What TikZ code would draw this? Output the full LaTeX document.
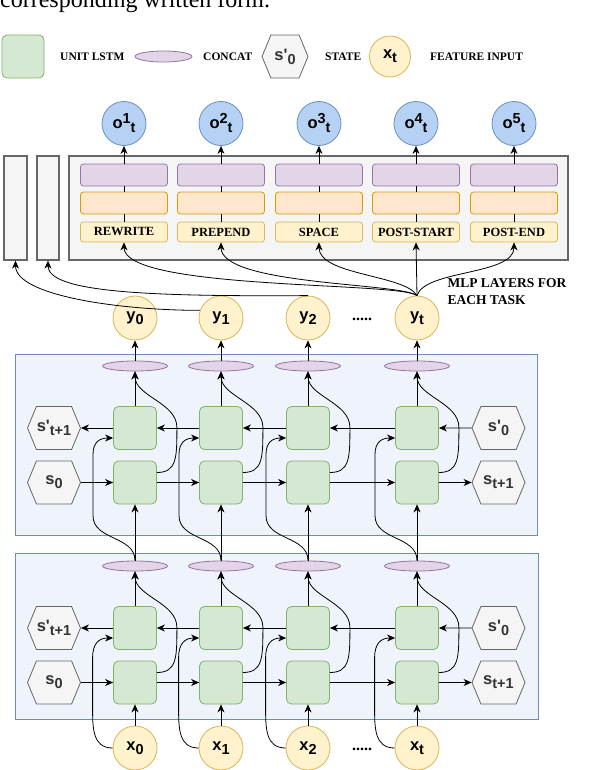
\documentclass[tikz,border=0pt]{standalone}
\usepackage{fontspec}
\setmainfont{Liberation Serif}
\newfontfamily\nodefont{Liberation Sans}
\usetikzlibrary{arrows.meta,shapes.symbols,shapes.geometric}

\definecolor{lstmfill}{HTML}{D5E8D4}
\definecolor{lstmline}{HTML}{82B366}
\definecolor{catfill}{HTML}{E1D5E7}
\definecolor{catline}{HTML}{9673A6}
\definecolor{statefill}{HTML}{F5F5F5}
\definecolor{stateline}{HTML}{666666}
\definecolor{featfill}{HTML}{FFF2CC}
\definecolor{featline}{HTML}{D6B656}
\definecolor{outfill}{HTML}{B5D2F5}
\definecolor{outline}{HTML}{6C8EBF}
\definecolor{mlpfill}{HTML}{FFE6CC}
\definecolor{mlpline}{HTML}{D79B00}
\definecolor{panelfill}{HTML}{EEF3FC}
\definecolor{panelline}{HTML}{6C8EBF}

\newcommand{\lsub}[1]{\raisebox{-4pt}{\fontsize{14.5}{14.5}\selectfont #1}}
\newcommand{\lsup}[1]{\raisebox{5pt}{\fontsize{14.5}{14.5}\selectfont #1}}

\tikzset{
  arr/.style={-{Stealth[length=8pt,width=7pt,inset=2.5pt]}, line width=0.8pt},
  lbl/.style={font=\nodefont\bfseries\fontsize{16.5}{16.5}\selectfont},
  lstm/.style={draw=lstmline, fill=lstmfill, line width=0.8pt, rounded corners=5pt,
    minimum width=43pt, minimum height=43pt},
  concat/.style={ellipse, draw=catline, fill=catfill, line width=0.8pt, inner sep=0pt,
    minimum width=65pt, minimum height=10pt},
  state/.style={signal, signal to=west and east, signal pointer angle=135, lbl,
    draw=stateline, fill=statefill, text=black!80, line width=0.8pt, inner sep=0pt,
    minimum width=53pt, minimum height=43pt},
  feat/.style={circle, lbl, draw=featline, fill=featfill, line width=0.8pt, inner sep=0pt,
    minimum size=44pt},
  outc/.style={circle, lbl, draw=outline, fill=outfill, line width=0.8pt, inner sep=0pt,
    minimum size=44pt},
  hidbox/.style={rounded corners=3pt, line width=0.8pt, minimum width=87pt, minimum height=22pt},
  taskbox/.style={draw=featline, fill=featfill, rounded corners=3pt, line width=0.8pt,
    minimum width=87pt, minimum height=20pt, inner sep=0pt,
    font=\bfseries\fontsize{12.5}{12.5}\selectfont},
  mlpbox/.style={draw=stateline, fill=statefill, line width=1.3pt},
  panel/.style={draw=panelline, fill=panelfill, line width=0.8pt},
  keytext/.style={anchor=west, inner sep=0pt, font=\bfseries\fontsize{11.5}{11.5}\selectfont},
}

\begin{document}
\begin{tikzpicture}[x=1pt,y=-1pt]
\useasboundingbox (0,0) rectangle (594,770);

% last line of the caption above
\node[anchor=base west, inner sep=0pt, font=\fontsize{24}{24}\selectfont] (caption) at (0,8) {corresponding written form.};

% legend
\node[lstm, minimum width=42pt] (keylstm) at (23,56.5) {};
\node[keytext] (keylstmtext) at (60,57) {UNIT LSTM};
\node[concat, minimum width=57pt, minimum height=11pt] (keycat) at (163.5,56.5) {};
\node[keytext] (keycattext) at (203,57) {CONCAT};
\node[state, minimum width=46pt] (keystate) at (285,56.5) {s'\lsub{0}};
\node[keytext] (keystatetext) at (325,57) {STATE};
\node[feat, minimum size=41pt] (keyfeat) at (390,56.5) {x\lsub{t}};
\node[keytext] (keyfeattext) at (430,57) {FEATURE INPUT};

% the two recurrent layers
\draw[panel] (15,354) rectangle (537,535);
\draw[panel] (15,553) rectangle (538,719);

% task heads
\draw[mlpbox] (69,156) rectangle (568,260);
\node[mlpbox, minimum width=23pt, minimum height=104pt] (side1) at (15.5,208) {};
\node[mlpbox, minimum width=22pt, minimum height=104pt] (side2) at (48,208) {};

\foreach \x/\task [count=\k] in {124/REWRITE, 221/PREPEND, 319/SPACE, 416/POST-START, 514/POST-END} {
  \node[taskbox] (task\k) at (\x,232) {\task};
  \node[hidbox, draw=mlpline, fill=mlpfill] (mid\k) at (\x,203) {};
  \node[hidbox, draw=catline, fill=catfill] (top\k) at (\x,175) {};
  \node[outc] (o\k) at (\x,123.5) {o\lsup{\k}\lsub{t}};
  \draw[line width=0.8pt] (task\k) -- (mid\k);
  \draw[line width=0.8pt] (mid\k) -- (top\k);
  \draw[arr] (top\k) -- (o\k);
}

\foreach \lay/\dy in {u/0, d/200} {
  \foreach \c/\x in {0/135, 1/221, 2/308, t/417} {
    \node[concat] (cat\lay\c) at (\x,366+\dy) {};
    \node[lstm] (bw\lay\c) at (\x,428+\dy) {};
    \node[lstm] (fw\lay\c) at (\x,482.5+\dy) {};
  }
  \node[state] (stp\lay) at (54,428+\dy) {s'\lsub{t+1}};
  \node[state] (sz\lay) at (54,482.5+\dy) {s\lsub{0}};
  \node[state] (szp\lay) at (498.5,428+\dy) {s'\lsub{0}};
  \node[state] (st\lay) at (498.5,482.5+\dy) {s\lsub{t+1}};
}

% outputs and inputs
\foreach \c/\x in {0/135, 1/221, 2/308, t/417} {
  \node[feat] (y\c) at (\x,318) {y\lsub{\c}};
  \node[feat] (x\c) at (\x,748) {x\lsub{\c}};
}
\node[font=\bfseries\fontsize{16}{16}\selectfont] (ydots) at (362,319) {.....};
\node[font=\bfseries\fontsize{16}{16}\selectfont] (xdots) at (362,749) {.....};
\node[anchor=west, align=left, font=\bfseries\fontsize{13.5}{17}\selectfont] (mlptext) at (444,292) {MLP LAYERS FOR\\EACH TASK};

% forward and backward chains
\foreach \lay in {u,d} {
  \draw[arr] (sz\lay) -- (fw\lay 0);
  \draw[arr] (fw\lay 0) -- (fw\lay 1);
  \draw[arr] (fw\lay 1) -- (fw\lay 2);
  \draw[arr] (fw\lay 2) -- (fw\lay t);
  \draw[arr] (fw\lay t) -- (st\lay);
  \draw[arr] (szp\lay) -- (bw\lay t);
  \draw[arr] (bw\lay t) -- (bw\lay 2);
  \draw[arr] (bw\lay 2) -- (bw\lay 1);
  \draw[arr] (bw\lay 1) -- (bw\lay 0);
  \draw[arr] (bw\lay 0) -- (stp\lay);
  \foreach \c in {0,1,2,t} {
    \draw[arr] (bw\lay\c) -- (cat\lay\c);
    \draw[arr] ([yshift=10pt]fw\lay\c.east) .. controls +(20,0) and +(0,30) .. ++(20,-45)
      .. controls +(0,-25) and +(0,25) .. (cat\lay\c.south);
  }
}

\foreach \c in {0,1,2,t} {
  % input to the lower layer
  \draw[arr] (x\c) -- (fwd\c);
  \draw[arr] (x\c.west) .. controls +(-20,0) and +(0,20) .. ++(-20,-40) -- ++(0,-50)
    .. controls +(0,-15) and +(-14,0) .. ([yshift=-10pt]bwd\c.west);
  % lower layer to upper layer
  \draw[arr] (catd\c) -- (fwu\c);
  \draw[arr] (catd\c.north) .. controls +(0,-25) and +(0,25) .. ++(-42,-45) -- ++(0,-61)
    .. controls +(0,-12) and +(-14,0) .. ([yshift=-10pt]bwu\c.west);
  % upper layer to outputs
  \draw[arr] (catu\c) -- (y\c);
}

% outputs to the task heads
\draw[arr] (yt.north) .. controls +(-17,-14) and +(0,48) .. (task1.south);
\draw[arr] (yt.north) .. controls +(-17,-13) and +(0,43) .. (task2.south);
\draw[arr] (yt.north) .. controls +(-12,-21) and +(0,33) .. (task3.south);
\draw[arr] (yt.north) -- (task4.south);
\draw[arr] (yt.north) .. controls +(8,-26) and +(0,33) .. (task5.south);
\draw[arr] (y2.north) .. controls +(-158,1) and +(0,32) .. (side2.south);
\draw[arr] (y1.160) .. controls +(-80,0) and +(0,35) .. (side1.south);
\end{tikzpicture}
\end{document}
